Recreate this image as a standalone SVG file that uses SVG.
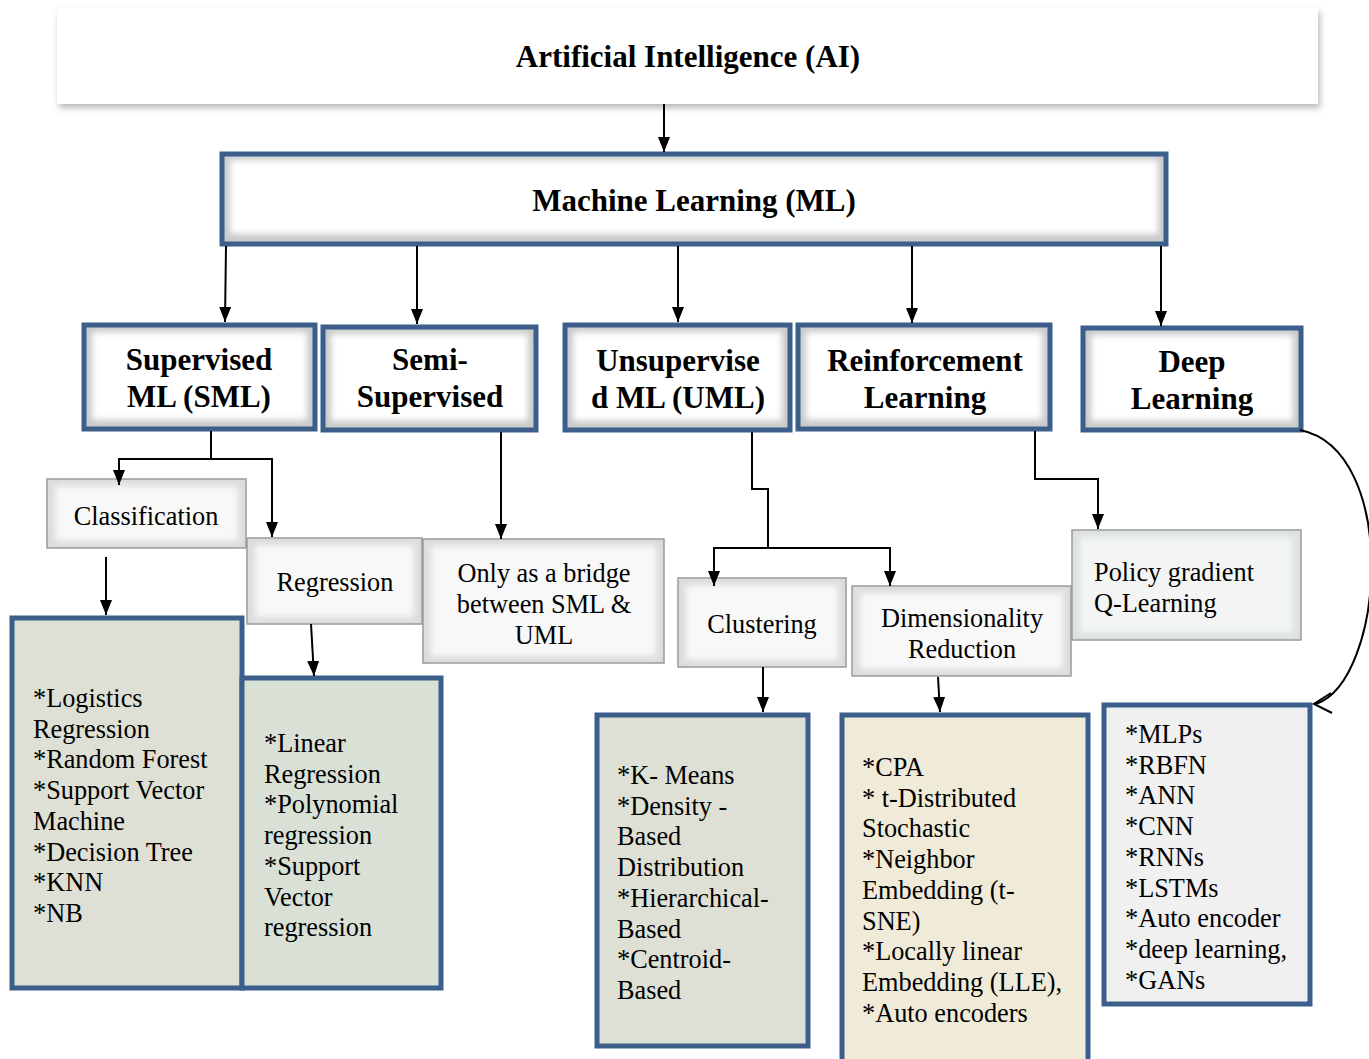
<svg xmlns="http://www.w3.org/2000/svg" width="1369" height="1059" viewBox="0 0 1369 1059">
<defs>
<style>
.h{font-family:"Liberation Serif","Times New Roman",serif;font-weight:bold;font-size:31px;fill:#000;text-anchor:middle}
.l{font-family:"Liberation Serif","Times New Roman",serif;font-size:26.3px;fill:#000}
.c{text-anchor:middle}
.blue{stroke:#3b5e8b;stroke-width:5}
.bev{fill:#c9c9c9}
.in{fill:#ffffff;filter:url(#soft)}
.gbox{fill:#dcdcdc;stroke:#9a9a9a;stroke-width:1.5}
.gin{fill:#f8f8f8;filter:url(#soft)}
.conn path{fill:none;stroke:#000;stroke-width:2}
</style>
<filter id="soft" x="-10%" y="-20%" width="120%" height="140%"><feGaussianBlur stdDeviation="3"/></filter>
<filter id="shadow" x="-5%" y="-20%" width="110%" height="150%"><feDropShadow dx="2" dy="4" stdDeviation="3" flood-color="#888" flood-opacity="0.6"/></filter>
<marker id="ah" markerWidth="15" markerHeight="12" refX="15" refY="6" orient="auto" viewBox="0 0 15 12" markerUnits="userSpaceOnUse"><path d="M0,0 L15,6 L0,12 Z" fill="#000"/></marker>
</defs>
<rect width="1369" height="1059" fill="#fff"/>

<g id="ai">
<rect x="57" y="8" width="1261" height="96" fill="#fff" filter="url(#shadow)"/>
<text class="h" x="688" y="67">Artificial Intelligence (AI)</text>
</g>

<g id="ml">
<rect x="222" y="154" width="944" height="90" class="bev"/>
<rect x="230" y="160" width="928" height="74" class="in"/>
<rect x="222" y="154" width="944" height="90" fill="none" class="blue"/>
<text class="h" x="694" y="211">Machine Learning (ML)</text>
</g>

<g id="sml">
<rect x="84" y="325" width="231" height="104" class="bev"/>
<rect x="92" y="332" width="215" height="88" class="in"/>
<rect x="84" y="325" width="231" height="104" fill="none" class="blue"/>
<text class="h" x="199" y="370">Supervised</text>
<text class="h" x="199" y="407">ML (SML)</text>
</g>

<g id="semi">
<rect x="323" y="327" width="213" height="103" class="bev"/>
<rect x="331" y="334" width="197" height="87" class="in"/>
<rect x="323" y="327" width="213" height="103" fill="none" class="blue"/>
<text class="h" x="430" y="370">Semi-</text>
<text class="h" x="430" y="407">Supervised</text>
</g>

<g id="uml">
<rect x="565" y="325" width="225" height="105" class="bev"/>
<rect x="573" y="332" width="209" height="89" class="in"/>
<rect x="565" y="325" width="225" height="105" fill="none" class="blue"/>
<text class="h" x="678" y="371">Unsupervise</text>
<text class="h" x="678" y="408">d ML (UML)</text>
</g>

<g id="rl">
<rect x="798" y="325" width="252" height="104" class="bev"/>
<rect x="806" y="332" width="236" height="88" class="in"/>
<rect x="798" y="325" width="252" height="104" fill="none" class="blue"/>
<text class="h" x="925" y="371">Reinforcement</text>
<text class="h" x="925" y="408">Learning</text>
</g>

<g id="dl">
<rect x="1083" y="328" width="218" height="102" class="bev"/>
<rect x="1091" y="335" width="202" height="86" class="in"/>
<rect x="1083" y="328" width="218" height="102" fill="none" class="blue"/>
<text class="h" x="1192" y="372">Deep</text>
<text class="h" x="1192" y="409">Learning</text>
</g>

<g id="classification">
<rect x="47" y="479" width="199" height="69" class="gbox"/>
<rect x="55" y="486" width="183" height="55" class="gin"/>
<text class="l c" x="146" y="525">Classification</text>
</g>

<g id="regression">
<rect x="247" y="538" width="175" height="86" class="gbox"/>
<rect x="255" y="545" width="159" height="72" class="gin"/>
<text class="l c" x="335" y="591">Regression</text>
</g>

<g id="bridge">
<rect x="423" y="539" width="241" height="124" class="gbox"/>
<rect x="431" y="546" width="225" height="110" class="gin"/>
<text class="l c" x="544" y="582">Only as a bridge</text>
<text class="l c" x="544" y="613">between SML &amp;</text>
<text class="l c" x="544" y="644">UML</text>
</g>

<g id="clustering">
<rect x="678" y="578" width="168" height="89" class="gbox"/>
<rect x="686" y="585" width="152" height="75" class="gin"/>
<text class="l c" x="762" y="633">Clustering</text>
</g>

<g id="dimred">
<rect x="852" y="586" width="219" height="90" class="gbox"/>
<rect x="860" y="593" width="203" height="76" class="gin"/>
<text class="l c" x="962" y="627">Dimensionality</text>
<text class="l c" x="962" y="658">Reduction</text>
</g>

<g id="policy">
<rect x="1072" y="530" width="229" height="110" class="gbox" style="fill:#dde0e0"/>
<rect x="1080" y="537" width="213" height="96" class="gin" style="fill:#f3f5f5"/>
<text class="l" x="1094" y="581">Policy gradient</text>
<text class="l" x="1094" y="612">Q-Learning</text>
</g>

<g id="class-list">
<rect x="12" y="618" width="230" height="370" fill="#dfe0d5" class="blue"/>
<text class="l" x="33" y="707"><tspan x="33">*Logistics</tspan><tspan x="33" dy="30.7">Regression</tspan><tspan x="33" dy="30.7">*Random Forest</tspan><tspan x="33" dy="30.7">*Support Vector</tspan><tspan x="33" dy="30.7">Machine</tspan><tspan x="33" dy="30.7">*Decision Tree</tspan><tspan x="33" dy="30.7">*KNN</tspan><tspan x="33" dy="30.7">*NB</tspan></text>
</g>

<g id="reg-list">
<rect x="242" y="678" width="199" height="310" fill="#d9e0d6" class="blue"/>
<text class="l" x="264" y="752"><tspan x="264">*Linear</tspan><tspan x="264" dy="30.7">Regression</tspan><tspan x="264" dy="30.7">*Polynomial</tspan><tspan x="264" dy="30.7">regression</tspan><tspan x="264" dy="30.7">*Support</tspan><tspan x="264" dy="30.7">Vector</tspan><tspan x="264" dy="30.7">regression</tspan></text>
</g>

<g id="cluster-list">
<rect x="597" y="715" width="211" height="331" fill="#dfe0d5" class="blue"/>
<text class="l" x="617" y="784"><tspan x="617">*K- Means</tspan><tspan x="617" dy="30.7">*Density -</tspan><tspan x="617" dy="30.7">Based</tspan><tspan x="617" dy="30.7">Distribution</tspan><tspan x="617" dy="30.7">*Hierarchical-</tspan><tspan x="617" dy="30.7">Based</tspan><tspan x="617" dy="30.7">*Centroid-</tspan><tspan x="617" dy="30.7">Based</tspan></text>
</g>

<g id="dim-list">
<rect x="842" y="715" width="246" height="360" fill="#efebd8" class="blue"/>
<text class="l" x="862" y="776"><tspan x="862">*CPA</tspan><tspan x="862" dy="30.7">* t-Distributed</tspan><tspan x="862" dy="30.7">Stochastic</tspan><tspan x="862" dy="30.7">*Neighbor</tspan><tspan x="862" dy="30.7">Embedding (t-</tspan><tspan x="862" dy="30.7">SNE)</tspan><tspan x="862" dy="30.7">*Locally linear</tspan><tspan x="862" dy="30.7">Embedding (LLE),</tspan><tspan x="862" dy="30.7">*Auto encoders</tspan></text>
</g>

<g id="dl-list">
<rect x="1104" y="705" width="206" height="299" fill="#f0f0f0" class="blue"/>
<text class="l" x="1125" y="743"><tspan x="1125">*MLPs</tspan><tspan x="1125" dy="30.7">*RBFN</tspan><tspan x="1125" dy="30.7">*ANN</tspan><tspan x="1125" dy="30.7">*CNN</tspan><tspan x="1125" dy="30.7">*RNNs</tspan><tspan x="1125" dy="30.7">*LSTMs</tspan><tspan x="1125" dy="30.7">*Auto encoder</tspan><tspan x="1125" dy="30.7">*deep learning,</tspan><tspan x="1125" dy="30.7">*GANs</tspan></text>
</g>

<g id="connectors" class="conn">
<path d="M664,104 V152" marker-end="url(#ah)"/>
<path d="M226,246 L225,322" marker-end="url(#ah)"/>
<path d="M417,246 V324" marker-end="url(#ah)"/>
<path d="M678,246 V322" marker-end="url(#ah)"/>
<path d="M912,246 V323" marker-end="url(#ah)"/>
<path d="M1161,246 V326" marker-end="url(#ah)"/>
<path d="M211,431 V459 H119 V485" marker-end="url(#ah)"/>
<path d="M211,459 H272 V537" marker-end="url(#ah)"/>
<path d="M106,557 V615" marker-end="url(#ah)"/>
<path d="M311,624 L314,676" marker-end="url(#ah)"/>
<path d="M501,432 V539" marker-end="url(#ah)"/>
<path d="M752,432 V489 H768 V548 H714 V586" marker-end="url(#ah)"/>
<path d="M768,548 H890 V586" marker-end="url(#ah)"/>
<path d="M1035,431 V479 H1098 V529" marker-end="url(#ah)"/>
<path d="M763,667 V712" marker-end="url(#ah)"/>
<path d="M938,677 L940,712" marker-end="url(#ah)"/>
<path d="M1300,430 C1400,450 1385,680 1316,704"/>
<path d="M1331,693 L1314,704 L1332,713"/>
</g>
</svg>
